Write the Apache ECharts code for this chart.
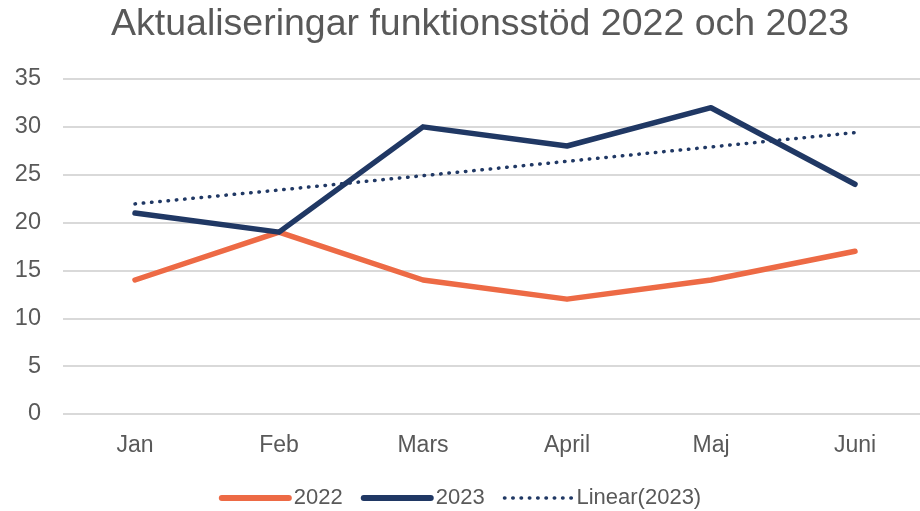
<!DOCTYPE html>
<html>
<head>
<meta charset="utf-8">
<script src="https://cdn.jsdelivr.net/npm/echarts@6/dist/echarts.min.js"></script>
<style>
  html, body { margin: 0; padding: 0; background: #fff; }
  #chart { width: 920px; height: 511px; }
</style>
</head>
<body>
<div id="chart"></div>
<script>
const months = ['Jan', 'Feb', 'Mars', 'April', 'Maj', 'Juni']
const values2022 = [14, 19, 14, 12, 14, 17]
const values2023 = [21, 19, 30, 28, 32, 24]
// trendline
const trend2023 = [21.95, 23.4, 24.9, 26.4, 27.9, 29.4]

const textColor = '#595959'
const font = 'Liberation Sans, Arial, sans-serif'
const orange = '#ED6A45'
const navy = '#203864'

const chart = echarts.init(document.getElementById('chart'))
chart.setOption({
  animation: false,
  title: {
    text: 'Aktualiseringar funktionsstöd 2022 och 2023',
    left: 106,
    top: 1,
    textStyle: { fontFamily: font, fontSize: 37.5, fontWeight: 'normal', color: textColor }
  },
  legend: {
    left: 'center',
    top: 482,
    itemWidth: 67,
    itemHeight: 14,
    itemGap: 18,
    itemStyle: { opacity: 0 },
    textStyle: { fontFamily: font, fontSize: 22, color: textColor },
    data: [
      { name: '2022', lineStyle: { width: 6, cap: 'round' } },
      { name: '2023', lineStyle: { width: 6, cap: 'round' } },
      { name: 'Linear(2023)', lineStyle: { width: 3.5, type: [0.5, 7.8], cap: 'round' } }
    ]
  },
  grid: {
    left: 63,
    width: 864,
    top: 79,
    bottom: 97,
    outerBoundsMode: 'none'
  },
  xAxis: {
    type: 'category',
    data: months,
    boundaryGap: true,
    axisLine: { show: false },
    axisTick: { show: false },
    axisLabel: { fontFamily: font, fontSize: 23, color: textColor, margin: 20 }
  },
  yAxis: {
    type: 'value',
    min: 0,
    max: 35,
    interval: 5,
    axisLabel: { fontFamily: font, fontSize: 23.5, color: textColor, margin: 22 },
    splitLine: { lineStyle: { color: '#d9d9d9', width: 2 } }
  },
  series: [{
    name: '2022',
    type: 'line',
    data: values2022,
    symbol: 'none',
    lineStyle: { color: orange, width: 5.5, cap: 'round', join: 'round' },
    itemStyle: { color: orange }
  }, {
    name: '2023',
    type: 'line',
    data: values2023,
    symbol: 'none',
    lineStyle: { color: navy, width: 5.5, cap: 'round', join: 'round' },
    itemStyle: { color: navy }
  }, {
    name: 'Linear(2023)',
    type: 'line',
    data: trend2023,
    symbol: 'none',
    lineStyle: { color: navy, width: 3.5, type: [0.5, 7.8], cap: 'round' },
    itemStyle: { color: navy }
  }]
})
</script>
</body>
</html>
